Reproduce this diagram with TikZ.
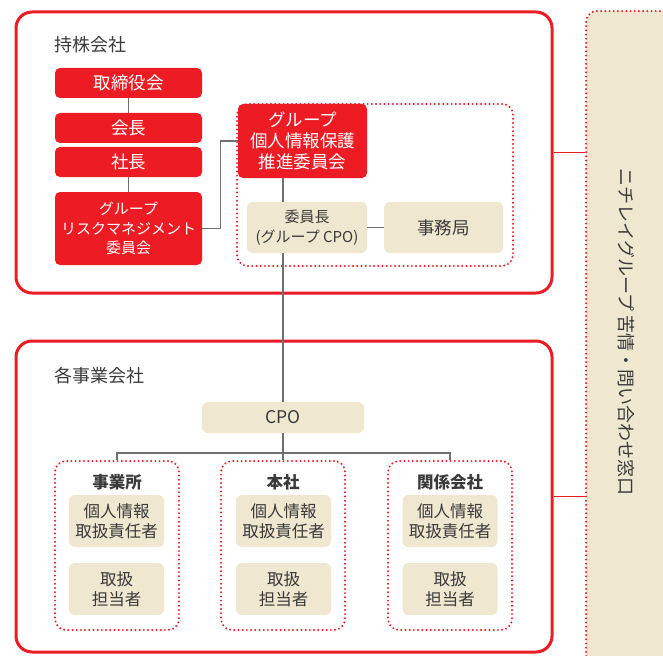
\documentclass[tikz,border=0pt]{standalone}
\usepackage{fontspec}
\setmainfont{Noto Sans CJK JP}
\definecolor{nred}{HTML}{ED1C24}
\definecolor{beige}{HTML}{EFE7D0}
\definecolor{ink}{HTML}{3A3A3A}
\definecolor{conn}{HTML}{707070}
\begin{document}
\begin{tikzpicture}[x=1pt,y=-1pt,
  bigbox/.style={draw=nred,line width=3pt,rounded corners=16pt,inner sep=0pt},
  redbox/.style={fill=nred,text=white,rounded corners=5pt,inner sep=0pt,align=center},
  beigebox/.style={fill=beige,text=ink,rounded corners=6pt,inner sep=0pt,align=center},
  dotbox/.style={draw=nred,line width=2.2pt,dash pattern=on 0pt off 4.2pt,line cap=round,rounded corners=11pt,inner sep=0pt},
  conline/.style={draw=conn,line width=1.4pt},
  redline/.style={draw=nred,line width=1.8pt},
  lbl/.style={text=ink,inner sep=0pt},
  fs/.style={font=\fontsize{#1}{20}\selectfont}
]
\useasboundingbox (0,0) rectangle (663,655);

% contact window on the right
\node[fill=beige,dotbox,minimum width=110pt,minimum height=680pt,anchor=north west] (contact) at (585,10) {};
\node[lbl,fs=18,rotate=-90] (contacttext) at (626,332) {ニチレイグループ 苦情・問い合わせ窓口};

% holding company
\node[bigbox,minimum width=536pt,minimum height=281pt] (hold) at (284,152.5) {};
\node[lbl,fs=18,anchor=west] (holdlbl) at (54,45) {持株会社};

\node[redbox,fs=17.5,minimum width=147pt,minimum height=30pt] (board) at (128.5,83) {取締役会};
\node[redbox,fs=17.5,minimum width=147pt,minimum height=30pt] (chair) at (128.5,128) {会長};
\node[redbox,fs=17.5,minimum width=147pt,minimum height=30pt] (pres) at (128.5,162) {社長};
\node[redbox,font=\fontsize{15}{19.5}\selectfont,minimum width=147pt,minimum height=73pt] (risk) at (128.5,228.5) {グループ\\リスクマネジメント\\委員会};

\node[dotbox,minimum width=276pt,minimum height=162pt] (pgroup) at (375,185) {};
\node[redbox,font=\fontsize{17.5}{21}\selectfont,minimum width=129pt,minimum height=74pt] (gpp) at (302.5,141) {グループ\\個人情報保護\\推進委員会};
\node[beigebox,font=\fontsize{15}{20}\selectfont,minimum width=120pt,minimum height=51pt] (chief) at (307,227.5) {委員長\\(グループ CPO)};
\node[beigebox,fs=17.5,minimum width=119pt,minimum height=51pt] (office) at (443.5,227.5) {事務局};

% operating companies
\node[bigbox,minimum width=536pt,minimum height=311pt] (subs) at (284,496.5) {};
\node[lbl,fs=18,anchor=west] (subslbl) at (54,376) {各事業会社};
\node[beigebox,fs=17.5,minimum width=162pt,minimum height=31pt] (cpo) at (283,417.5) {CPO};

\node[dotbox,minimum width=124pt,minimum height=169pt] (g1) at (117,545.5) {};
\node[dotbox,minimum width=124pt,minimum height=169pt] (g2) at (283,545.5) {};
\node[dotbox,minimum width=124pt,minimum height=169pt] (g3) at (450,545.5) {};

\node[lbl,font=\fontsize{16.5}{20}\selectfont\bfseries] (t1) at (117,482) {事業所};
\node[lbl,font=\fontsize{16.5}{20}\selectfont\bfseries] (t2) at (283,482) {本社};
\node[lbl,font=\fontsize{16.5}{20}\selectfont\bfseries] (t3) at (450,482) {関係会社};

\foreach \n/\x in {1/116.5,2/283.5,3/450}{
  \node[beigebox,font=\fontsize{16.5}{20}\selectfont,minimum width=95pt,minimum height=52pt] (m\n) at (\x,521) {個人情報\\取扱責任者};
  \node[beigebox,font=\fontsize{16.5}{20}\selectfont,minimum width=95pt,minimum height=52pt] (s\n) at (\x,589) {取扱\\担当者};
}

% connectors
\draw[conline] (board) -- (chair);
\draw[conline] (pres) -- (risk);
\draw[conline] (risk.east) -- ++(18,0) |- (gpp.west);
\draw[conline] (gpp.south -| cpo) -- (chief.north -| cpo);
\draw[conline] (chief.east) -- (office.west);
\draw[conline] (chief.south -| cpo) -- (cpo.north);
\coordinate (hb) at (283,453);
\draw[conline] (cpo.south) -- (hb);
\draw[conline] (g1.north) -- (g1.north |- hb) -- (g3.north |- hb) -- (g3.north);
\draw[conline] (hb) -- (g2.north);

\draw[redline] (hold.east) -- (hold.east -| contact.west);
\draw[redline] (subs.east) -- (subs.east -| contact.west);
\end{tikzpicture}
\end{document}
